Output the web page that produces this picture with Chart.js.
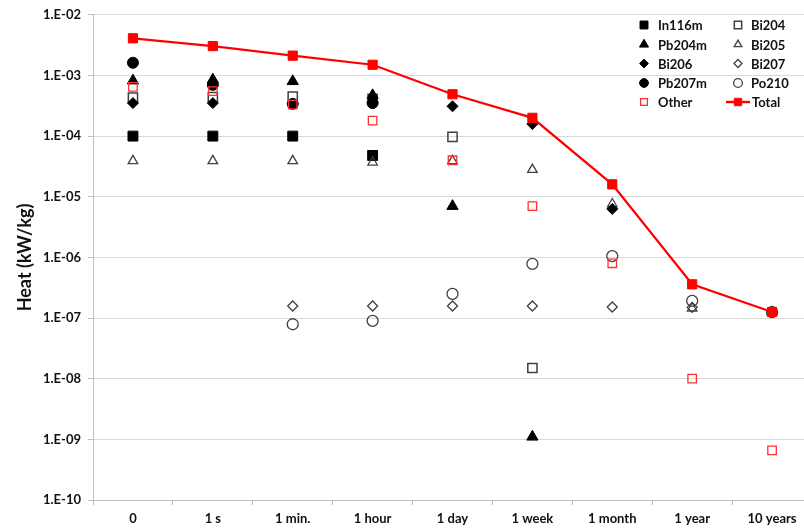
<!DOCTYPE html>
<html>
<head>
<meta charset="utf-8">
<title>Decay heat by nuclide</title>
<script src="https://cdn.jsdelivr.net/npm/chart.js@4/dist/chart.umd.min.js"></script>
<style>
  html, body { margin: 0; padding: 0; background: #fff; overflow: hidden; }
  #wrap { position: relative; width: 820px; height: 531px; }
</style>
</head>
<body>
<div id="wrap"><canvas id="c"></canvas></div>
<script>
// Cooling times after shutdown
const coolingTimes = ['0', '1 s', '1 min.', '1 hour', '1 day', '1 week', '1 month', '1 year', '10 years'];

// Decay heat per nuclide, kW/kg (null = not shown)
const in116m = [1.0e-4, 1.0e-4, 1.0e-4, 4.8e-5, null, null, null, null, null];
const bi204  = [4.3e-4, 4.4e-4, 4.5e-4, 4.1e-4, 9.7e-5, 1.5e-8, null, null, null];
const pb204m = [8.2e-4, 8.5e-4, 8.0e-4, 4.7e-4, 7.0e-6, 1.1e-9, null, null, null];
const bi205  = [3.9e-5, 3.9e-5, 3.9e-5, 3.7e-5, 3.9e-5, 2.8e-5, 7.6e-6, 1.45e-7, 1.27e-7];
const bi206  = [3.5e-4, 3.5e-4, 3.4e-4, 3.6e-4, 3.1e-4, 1.58e-4, 6.3e-6, null, 1.25e-7];
const bi207  = [null, null, 1.58e-7, 1.58e-7, 1.58e-7, 1.58e-7, 1.52e-7, 1.5e-7, 1.27e-7];
const pb207m = [1.62e-3, 7.0e-4, 3.4e-4, 3.5e-4, null, null, null, null, null];
const po210  = [null, null, 7.9e-8, 9.0e-8, 2.5e-7, 7.8e-7, 1.05e-6, 1.92e-7, 1.25e-7];
const other  = [6.5e-4, 5.5e-4, 3.3e-4, 1.8e-4, 4.0e-5, 7.0e-6, 8.0e-7, 1.0e-8, 6.6e-10];
const total  = [4.1e-3, 3.05e-3, 2.12e-3, 1.5e-3, 4.9e-4, 2.0e-4, 1.6e-5, 3.6e-7, 1.26e-7];

// Y tick exponents (decades)
const decades = [-10, -9, -8, -7, -6, -5, -4, -3, -2];

const FONT = 'Lato, Calibri, "Open Sans", sans-serif';
const TEXT = '#111';
const GREY = '#404040';

function marker(label, data, style, radius, fill, stroke, bw, order) {
  return {
    label, data, showLine: false, order,
    pointStyle: style, pointRadius: radius, pointHoverRadius: radius,
    pointBackgroundColor: fill, pointBorderColor: stroke, pointBorderWidth: bw,
    backgroundColor: fill, borderColor: stroke
  };
}

const datasets = [
  marker('In116m', in116m, 'rect', 7, '#000', '#000', 1, 10),
  marker('Bi204', bi204, 'rect', 6.5, 'rgba(0,0,0,0)', GREY, 1.5, 9),
  marker('Pb204m', pb204m, 'triangle', 6.5, '#000', '#000', 1, 8),
  marker('Bi205', bi205, 'triangle', 5.5, 'rgba(0,0,0,0)', GREY, 1.3, 7),
  marker('Bi206', bi206, 'rectRot', 5.5, '#000', '#000', 1, 6),
  marker('Bi207', bi207, 'rectRot', 5, 'rgba(0,0,0,0)', GREY, 1.3, 5),
  marker('Pb207m', pb207m, 'circle', 5.5, '#000', '#000', 1, 4),
  marker('Po210', po210, 'circle', 5.5, 'rgba(0,0,0,0)', GREY, 1.3, 3),
  marker('Other', other, 'rect', 6, 'rgba(0,0,0,0)', '#ff3030', 1.3, 2),
  {
    label: 'Total', data: total, order: 1,
    showLine: true, borderColor: '#ff0000', borderWidth: 2.2, tension: 0,
    backgroundColor: '#ff0000',
    pointStyle: 'rect', pointRadius: 6.5, pointHoverRadius: 6.5,
    pointBackgroundColor: '#ff0000', pointBorderColor: '#ff0000', pointBorderWidth: 1
  }
];

// Two-column legend drawn inside the plot, top right
const sideLegend = {
  id: 'sideLegend',
  afterDraw(chart) {
    const ctx = chart.ctx;
    const cols = [{ mx: 644, tx: 658 }, { mx: 738, tx: 751 }];
    const rows = [25, 44.5, 63.5, 83, 102];
    ctx.save();
    ctx.font = 'bold 13px ' + FONT;
    ctx.fillStyle = TEXT;
    ctx.textBaseline = 'middle';
    ctx.textAlign = 'left';
    chart.data.datasets.forEach((ds, i) => {
      const c = cols[i % 2];
      const y = rows[Math.floor(i / 2)];
      if (ds.showLine) {
        ctx.strokeStyle = ds.borderColor;
        ctx.lineWidth = 2.4;
        ctx.beginPath();
        ctx.moveTo(c.mx - 12, y);
        ctx.lineTo(c.mx + 12, y);
        ctx.stroke();
      }
      ctx.fillStyle = ds.pointBackgroundColor;
      ctx.strokeStyle = ds.pointBorderColor;
      ctx.lineWidth = ds.pointBorderWidth;
      Chart.helpers.drawPoint(ctx, {
        pointStyle: ds.pointStyle,
        radius: ds.pointRadius * 0.8,
        borderWidth: ds.pointBorderWidth
      }, c.mx, y);
      ctx.fillStyle = TEXT;
      ctx.fillText(ds.label, ds.showLine ? c.tx + 1 : c.tx, y + 1);
    });
    ctx.restore();
  }
};

new Chart(document.getElementById('c'), {
  type: 'line',
  data: { labels: coolingTimes, datasets },
  options: {
    responsive: true,
    maintainAspectRatio: false,
    animation: false,
    layout: { padding: { top: 13, right: 5, left: 0, bottom: 0 } },
    plugins: { legend: { display: false }, tooltip: { enabled: false } },
    scales: {
      x: {
        type: 'category',
        offset: true,
        grid: { offset: true, drawOnChartArea: false, drawTicks: true, tickLength: 5, color: '#bfbfbf' },
        border: { color: '#bfbfbf' },
        ticks: { color: TEXT, font: { family: FONT, size: 13, weight: 'bold' }, padding: 6, maxRotation: 0, autoSkip: false },
        afterFit(s) { s.height = 31; }
      },
      y: {
        type: 'logarithmic',
        min: 1e-10,
        max: 1e-2,
        afterBuildTicks(s) { s.ticks = decades.map(e => ({ value: Math.pow(10, e) })); },
        grid: { color: '#d9d9d9', tickLength: 5, tickColor: '#bfbfbf' },
        border: { color: '#bfbfbf' },
        ticks: {
          color: TEXT, font: { family: FONT, size: 13, weight: 'bold' }, padding: 7,
          callback(v) {
            const e = Math.round(Math.log10(v));
            return '1.E' + (e < 0 ? '-' : '+') + String(Math.abs(e)).padStart(2, '0');
          }
        },
        title: {
          display: true, text: 'Heat (kW/kg)', color: TEXT,
          font: { family: FONT, size: 18, weight: 'bold' },
          padding: { top: 14, bottom: 0 }
        },
        afterFit(s) { s.width = 93; }
      }
    }
  },
  plugins: [sideLegend]
});
</script>
</body>
</html>
